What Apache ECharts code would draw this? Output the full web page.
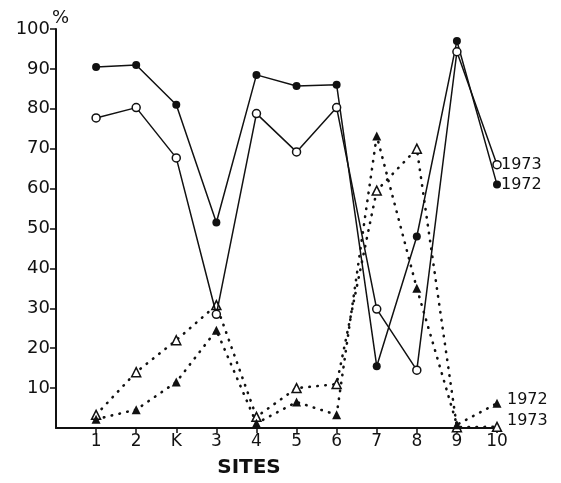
<!DOCTYPE html>
<html>
<head>
<meta charset="utf-8">
<script src="https://cdn.jsdelivr.net/npm/echarts@6/dist/echarts.min.js"></script>
<style>
  html, body { margin: 0; padding: 0; background: #fff; }
  #chart { width: 561px; height: 483px; }
</style>
</head>
<body>
<div id="chart"></div>
<script>
// Sites along the horizontal axis
const sites = ['1', '2', 'K', '3', '4', '5', '6', '7', '8', '9', '10'];

// Percentages per site (circles: solid lines, triangles: dotted lines)
const circles1972 = [90.5, 91, 81, 51.5, 88.5, 85.7, 86, 15.5, 48, 97, 61];
const circles1973 = [77.7, 80.3, 67.7, 28.5, 78.8, 69.2, 80.3, 29.8, 14.5, 94.3, 66];
const triangles1972 = [2.2, 4.6, 11.5, 24.5, 1.2, 6.5, 3.3, 73.2, 35, 0.8, 6.2];
const triangles1973 = [3.3, 14, 22, 30.8, 2.8, 10, 11, 59.5, 70, 0.2, 0.3];

const yTicks = [10, 20, 30, 40, 50, 60, 70, 80, 90, 100];
const yUnit = '%';

// Sites sit at positions 1..n, leaving one step of room after the vertical axis
const pairs = vals => vals.map((v, i) => [i + 1, v]);
const sitePositions = sites.map((s, i) => i + 1);

const FONT = 'DejaVu Sans';
const ink = '#111';

function series(name, vals, symbol, filled, dotted, labelOffset) {
  return {
    name: name,
    type: 'line',
    data: pairs(vals),
    symbol: symbol,
    symbolSize: symbol === 'triangle' ? 9 : 8,
    showAllSymbol: true,
    itemStyle: {
      color: filled ? ink : '#fff',
      borderColor: ink,
      borderWidth: filled ? 0 : 1.5
    },
    lineStyle: dotted
      ? { color: ink, width: 2.6, type: [0.5, 7.5], cap: 'round' }
      : { color: ink, width: 1.5 },
    z: dotted ? 2 : 3,
    endLabel: {
      show: true,
      formatter: '{a}',
      color: ink,
      fontFamily: FONT,
      fontSize: 16,
      distance: 4,
      offset: labelOffset
    },
    emphasis: { disabled: true },
    animation: false
  };
}

const chart = echarts.init(document.getElementById('chart'), null, { renderer: 'canvas' });
chart.setOption({
  backgroundColor: '#fff',
  animation: false,
  grid: { left: 56, right: 64, top: 29, bottom: 54, containLabel: false },
  // unit marker sitting just above the top of the vertical axis
  graphic: [{
    type: 'text',
    left: 52,
    top: 9,
    style: { text: yUnit, fill: ink, font: '18px "DejaVu Sans"' }
  }],
  xAxis: {
    type: 'value',
    min: 0,
    max: sites.length,
    interval: 1,
    splitLine: { show: false },
    axisLine: { lineStyle: { color: ink, width: 2 } },
    axisTick: {
      show: true, length: 5, inside: false,
      customValues: sitePositions,
      lineStyle: { color: ink, width: 1.5 }
    },
    axisLabel: {
      color: ink,
      fontFamily: FONT,
      fontSize: 17,
      margin: 5,
      customValues: sitePositions,
      formatter: v => sites[v - 1]
    },
    name: 'SITES',
    nameLocation: 'middle',
    nameGap: 30,
    nameTextStyle: { color: ink, fontFamily: FONT, fontSize: 20, fontWeight: 'bold', padding: [0, 55, 0, 0] }
  },
  yAxis: {
    type: 'value',
    min: 0,
    max: yTicks[yTicks.length - 1],
    interval: 10,
    splitLine: { show: false },
    axisLine: { show: true, lineStyle: { color: ink, width: 2 } },
    axisTick: { show: true, length: 6, customValues: yTicks, lineStyle: { color: ink, width: 1.5 } },
    axisLabel: {
      color: ink,
      fontFamily: FONT,
      fontSize: 18,
      margin: 6,
      customValues: yTicks,
      formatter: v => String(v)
    }
  },
  series: [
    series('1973', triangles1973, 'triangle', false, true, [6, -6]),
    series('1972', triangles1972, 'triangle', true, true, [6, -3]),
    series('1973', circles1973, 'circle', false, false, [0, 0]),
    series('1972', circles1972, 'circle', true, false, [0, 0])
  ]
});
</script>
</body>
</html>
